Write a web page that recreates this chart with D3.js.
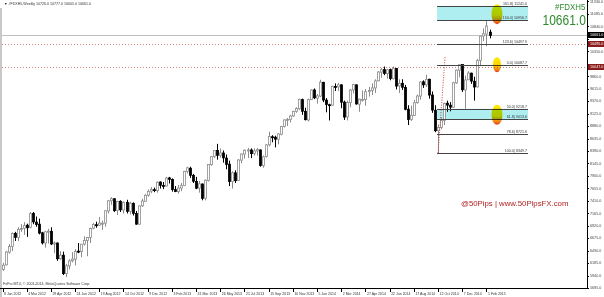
<!DOCTYPE html>
<html>
<head>
<meta charset="utf-8">
<script src="https://cdn.jsdelivr.net/npm/d3@7"></script>
<style>
  body { margin: 0; background: #fff; }
  svg { display: block; font-family: "Liberation Sans", Arial, sans-serif; }
</style>
</head>
<body>
<div id="chart"></div>
<script>
// weekly bars, first bar = week of 8 Jan 2012
var opens = [6060,6150,6400,6510,6770,6690,6850,6870,6930,6890,7160,6990,6950,6780,6580,6800,6810,6560,6580,6270,
  6340,5980,6130,6230,6260,6420,6410,6560,6630,6690,6870,6940,6930,6970,6970,7210,7410,7450,7220,7400,
  7230,7380,7200,7360,7160,6950,7310,7400,7520,7600,7630,7610,7780,7710,7700,7860,7830,7630,7590,7660,
  7710,7990,8050,7910,7790,7660,7740,7460,7810,8120,8280,8400,8300,8350,8250,8130,7790,7960,7810,8210,
  8330,8400,8410,8340,8390,8410,8100,8280,8510,8670,8660,8620,8720,8870,9000,9010,9080,9170,9220,9400,
  9170,9000,9400,9590,9430,9470,9740,9390,9300,9290,9660,9650,9690,9350,9060,9340,9590,9690,9310,9400,
  9400,9560,9580,9630,9770,9940,9990,9910,9990,9810,10010,9670,9720,9640,9210,9010,9090,9340,9470,9750,
  9690,9800,9490,9190,8790,8850,8990,9330,9290,9250,9730,9980,10090,9590,9790,9920,9760,9650,10170,10650,
  10690,10726];
var highs = [6190,6420,6560,6790,6800,6890,6950,6990,6960,7190,7190,7100,7060,6800,6820,6860,6890,6610,6590,6420,
  6410,6170,6260,6400,6460,6580,6560,6710,6700,6880,6970,7000,7090,7020,7220,7420,7480,7460,7410,7420,
  7400,7430,7390,7380,7210,7320,7450,7540,7630,7680,7670,7790,7790,7780,7880,7880,7850,7700,7720,7760,
  8000,8080,8080,7940,7880,7800,7750,7830,8130,8290,8400,8530,8440,8400,8320,8200,7990,8010,8230,8340,
  8420,8450,8440,8440,8450,8420,8300,8520,8770,8700,8690,8740,8880,9010,9040,9100,9180,9250,9420,9420,
  9240,9420,9600,9620,9510,9790,9750,9430,9320,9670,9720,9730,9700,9380,9380,9610,9710,9700,9420,9580,
  9610,9650,9720,9800,9960,10020,10050,10000,10010,10050,10020,9800,9800,9690,9290,9280,9390,9500,9760,9780,
  9890,9810,9560,9290,8910,9050,9340,9380,9350,9750,9990,10090,10090,9870,9960,9930,9850,10200,10650,10800,
  10950,10777];
var lows = [6030,6140,6370,6420,6620,6620,6800,6740,6700,6870,6950,6900,6750,6550,6490,6570,6540,6380,6230,6250,
  5950,5910,6060,6200,6140,6380,6300,6530,6320,6580,6850,6880,6920,6840,6900,7160,7330,7190,7130,7190,
  7160,7160,7140,7120,6940,6940,7290,7390,7490,7560,7580,7570,7650,7640,7690,7750,7590,7580,7550,7600,
  7700,7950,7860,7760,7640,7570,7420,7420,7790,8100,8250,8220,8260,8160,8030,7700,7650,7760,7800,8150,
  8240,8250,8250,8300,8300,8080,8060,8260,8480,8560,8460,8520,8700,8850,8880,8950,9060,9140,9200,9100,
  8990,8970,9390,9410,9320,9450,9350,9150,8990,9280,9570,9570,9230,9000,8990,9250,9520,9300,9160,9360,
  9280,9460,9490,9530,9760,9830,9880,9810,9780,9800,9600,9530,9590,9190,8900,8980,9080,9320,9400,9630,
  9650,9420,9140,8760,8350,8820,8900,9160,9170,9240,9710,9840,9550,9220,9790,9710,9380,9640,10060,10550,
  10450,10605];
var closes = [6143,6404,6512,6766,6692,6849,6864,6922,6880,7158,6996,6947,6775,6583,6801,6812,6561,6579,6271,6339,
  5978,6131,6229,6263,6416,6410,6557,6630,6689,6865,6945,6929,6971,6970,7214,7412,7451,7216,7398,7233,
  7380,7203,7363,7163,6951,7309,7405,7518,7597,7636,7612,7776,7715,7702,7857,7833,7633,7593,7661,7708,
  7986,8058,7912,7795,7658,7744,7459,7814,8122,8279,8398,8305,8349,8255,8127,7789,7959,7806,8212,8331,
  8404,8410,8338,8391,8416,8103,8276,8510,8675,8661,8622,8725,8870,9001,9009,9078,9168,9225,9405,9172,
  9006,9400,9589,9435,9473,9742,9392,9306,9290,9663,9657,9692,9350,9056,9343,9588,9695,9315,9409,9401,
  9556,9581,9630,9768,9943,9987,9912,9987,9815,10009,9666,9720,9644,9210,9010,9092,9339,9470,9747,9691,
  9799,9490,9195,8788,8850,8988,9326,9291,9252,9732,9980,10087,9594,9786,9923,9764,9648,10167,10649,10694,
  10846,10661];

var timeLabels = ["8 Jan 2012","4 Mar 2012","29 Apr 2012","24 Jun 2012","19 Aug 2012","14 Oct 2012","9 Dec 2012",
  "3 Feb 2013","31 Mar 2013","26 May 2013","21 Jul 2013","15 Sep 2013","10 Nov 2013","5 Jan 2014","2 Mar 2014",
  "27 Apr 2014","22 Jun 2014","17 Aug 2014","12 Oct 2014","7 Dec 2014","1 Feb 2015"];
var priceTicks = [5695,5940,6185,6430,6675,6920,7165,7410,7655,7900,8145,8390,8635,8880,9125,9370,9615,9860,
  10105,10350,10595,10840,11085,11330];

// fibonacci levels (label, price)
var fibNames = ["161.8","150.0","123.6","0.0","50.0","61.8","78.6","100.0"];
var fibPrices = [11241.0,10956.7,10497.9,10087.7,9218.7,9013.6,8721.6,8349.7];
var zoneTop = [11241.0,9218.7];
var zoneBottom = [10956.7,9013.6];
var markPrices = [11080, 10087.7, 9100];
var bidPrice = 10661.0;
var linePrices = [10495.0, 10047.0];

var W = 604, H = 297;
var plot = { left: 2, right: 587, top: 0, bottom: 288 };

var svg = d3.select("#chart").append("svg").attr("width", W).attr("height", H);

var defs = svg.append("defs");
var grad = defs.append("linearGradient").attr("id", "mark").attr("x1", 0).attr("x2", 0).attr("y1", 0).attr("y2", 1);
grad.append("stop").attr("offset", "0%").attr("stop-color", "#ffe800");
grad.append("stop").attr("offset", "55%").attr("stop-color", "#ffd400");
grad.append("stop").attr("offset", "85%").attr("stop-color", "#f48018");
grad.append("stop").attr("offset", "100%").attr("stop-color", "#e03010");

var x = d3.scaleLinear().domain([0, 161]).range([2.5, 489.5]);
var y = d3.scaleLinear().domain([5695, 11359]).range([plot.bottom, plot.top]);

// frame
svg.append("rect").attr("x", 0).attr("y", 8).attr("width", 2).attr("height", H - 8).attr("fill", "#c8c8c8");
svg.append("line").attr("x1", 0).attr("x2", plot.right).attr("y1", plot.bottom + 0.5).attr("y2", plot.bottom + 0.5)
  .attr("stroke", "#000");
svg.append("line").attr("x1", plot.right + 0.5).attr("x2", plot.right + 0.5).attr("y1", 0).attr("y2", plot.bottom + 1)
  .attr("stroke", "#000");

// zones
var fibX0 = x(144) - 1, fibX1 = 528;
svg.selectAll("rect.zone").data(zoneTop).enter().append("rect")
  .attr("x", fibX0).attr("width", fibX1 - fibX0)
  .attr("y", function(d) { return y(d); })
  .attr("height", function(d, i) { return y(zoneBottom[i]) - y(d); })
  .attr("fill", "#aeeef0");

// bid line + red lines
svg.append("line").attr("x1", plot.left).attr("x2", plot.right).attr("y1", Math.round(y(bidPrice)) + 0.5)
  .attr("y2", Math.round(y(bidPrice)) + 0.5).attr("stroke", "#c0c0c0");
svg.selectAll("line.hl").data(linePrices).enter().append("line")
  .attr("x1", plot.left).attr("x2", plot.right)
  .attr("y1", function(d) { return Math.round(y(d)) + 0.5; })
  .attr("y2", function(d) { return Math.round(y(d)) + 0.5; })
  .attr("stroke", "#d08080").attr("stroke-dasharray", "1,2");

// candles
var idx = d3.range(closes.length);
var g = svg.append("g");
g.selectAll("line.wick").data(idx).enter().append("line")
  .attr("x1", function(i) { return Math.round(x(i)) + 0.5; })
  .attr("x2", function(i) { return Math.round(x(i)) + 0.5; })
  .attr("y1", function(i) { return y(highs[i]); })
  .attr("y2", function(i) { return y(lows[i]); })
  .attr("stroke", function(i) { return closes[i] >= opens[i] ? "#8c8c8c" : "#000"; });
g.selectAll("rect.body").data(idx).enter().append("rect")
  .attr("x", function(i) { return Math.round(x(i)) - 0.5; })
  .attr("width", 2)
  .attr("y", function(i) { return y(Math.max(opens[i], closes[i])); })
  .attr("height", function(i) { return Math.max(1, Math.abs(y(opens[i]) - y(closes[i]))); })
  .attr("fill", function(i) { return closes[i] >= opens[i] ? "#fff" : "#000"; })
  .attr("stroke", function(i) { return closes[i] >= opens[i] ? "#8c8c8c" : "#000"; })
  .attr("stroke-width", 0.8);

// fib lines
svg.append("line").attr("x1", x(144)).attr("y1", y(8349.7)).attr("x2", x(146.3)).attr("y2", y(10240))
  .attr("stroke", "#d04040").attr("stroke-dasharray", "1,1.5");
svg.selectAll("line.fib").data(fibPrices).enter().append("line")
  .attr("x1", fibX0).attr("x2", fibX1)
  .attr("y1", function(d) { return Math.round(y(d)) + 0.5; })
  .attr("y2", function(d) { return Math.round(y(d)) + 0.5; })
  .attr("stroke", "#444");
svg.selectAll("text.fib").data(fibPrices).enter().append("text")
  .attr("x", fibX1 - 1).attr("y", function(d) { return Math.round(y(d)) - 1; })
  .attr("text-anchor", "end").attr("font-size", 3.6).attr("fill", "#333")
  .text(function(d, i) { return fibNames[i] + ") " + d.toFixed(1); });

// marker ellipses
var ell = svg.append("g").style("mix-blend-mode", "multiply");
ell.selectAll("ellipse").data(markPrices).enter().append("ellipse")
  .attr("cx", 497).attr("cy", function(d) { return y(d); })
  .attr("rx", function(d, i) { return i == 1 ? 4 : 5.5; })
  .attr("ry", function(d, i) { return i == 1 ? 7.5 : 10; })
  .attr("fill", "url(#mark)");

// price axis
var tagPrices = [bidPrice].concat(linePrices);
var shownTicks = priceTicks.filter(function(p) {
  return tagPrices.every(function(t) { return Math.abs(y(p) - y(t)) > 5; });
});
svg.selectAll("text.pt").data(shownTicks).enter().append("text")
  .attr("x", plot.right + 3).attr("y", function(d) { return y(d) + 1.3; })
  .attr("font-size", 3.7).attr("fill", "#444")
  .text(function(d) { return d.toFixed(1); });
svg.selectAll("line.pt").data(priceTicks).enter().append("line")
  .attr("x1", plot.right).attr("x2", plot.right + 2)
  .attr("y1", function(d) { return Math.round(y(d)) + 0.5; })
  .attr("y2", function(d) { return Math.round(y(d)) + 0.5; })
  .attr("stroke", "#000");

function tag(price, fill) {
  var yy = Math.round(y(price));
  svg.append("rect").attr("x", plot.right + 1).attr("y", yy - 3).attr("width", W - plot.right).attr("height", 6)
    .attr("fill", fill);
  svg.append("text").attr("x", plot.right + 3).attr("y", yy + 1.4).attr("font-size", 3.7).attr("fill", "#fff")
    .text(price.toFixed(1));
}
tag(bidPrice, "#000");
linePrices.forEach(function(p) { tag(p, "#8b1a1a"); });

// time axis
svg.selectAll("text.tl").data(timeLabels).enter().append("text")
  .attr("x", function(d, k) { return x(k * 8) + 1.5; }).attr("y", 294.5)
  .attr("font-size", 3.5).attr("fill", "#333")
  .text(function(d) { return d; });
svg.selectAll("line.tl").data(timeLabels).enter().append("line")
  .attr("x1", function(d, k) { return Math.round(x(k * 8)) + 0.5; })
  .attr("x2", function(d, k) { return Math.round(x(k * 8)) + 0.5; })
  .attr("y1", plot.bottom).attr("y2", plot.bottom + 4).attr("stroke", "#000");

// texts
svg.append("text").attr("x", 4).attr("y", 5).attr("font-size", 3.6).attr("fill", "#333")
  .text("\u25BC #FDXH5,Weekly  10726.0 10777.0 10605.0 10661.0");
svg.append("text").attr("x", 3).attr("y", 285).attr("font-size", 3.6).attr("fill", "#333")
  .text("FxPro MT4, \u00A9 2001-2014, MetaQuotes Software Corp.");
svg.append("text").attr("transform", "translate(555,10) scale(1,1.2)").attr("font-size", 7.9)
  .attr("fill", "#2e8b2e").text("#FDXH5");
svg.append("text").attr("transform", "translate(542.5,24.5) scale(1,1.2)").attr("font-size", 12)
  .attr("fill", "#2e8b2e").text(bidPrice.toFixed(1));
svg.append("text").attr("x", 461).attr("y", 206).attr("font-size", 7.8)
  .attr("fill", "#b22222").text("@50Pips | www.50PipsFX.com");
</script>
</body>
</html>
